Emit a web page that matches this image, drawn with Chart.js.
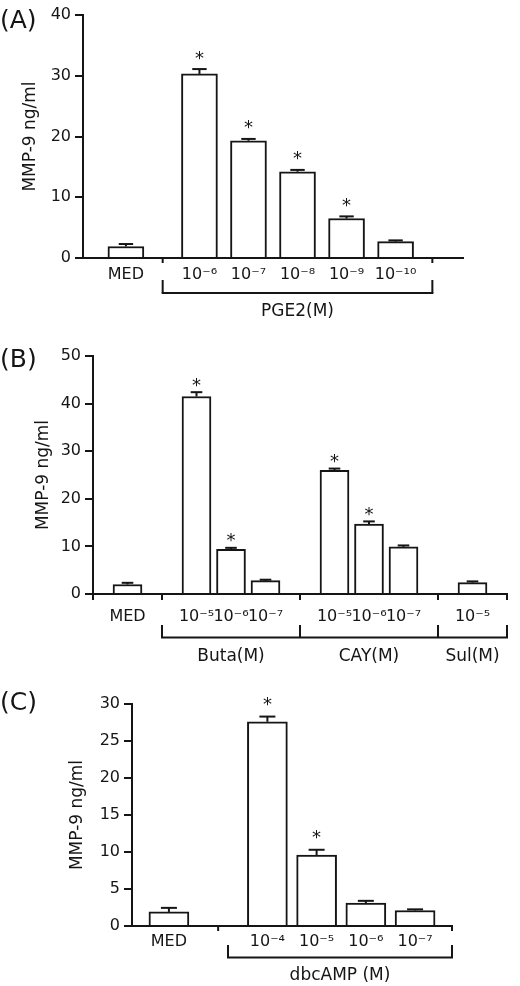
<!DOCTYPE html>
<html>
<head>
<meta charset="utf-8">
<script src="https://cdn.jsdelivr.net/npm/chart.js@4/dist/chart.umd.min.js"></script>
<style>
  html, body { margin: 0; padding: 0; background: #fff; }
  body { width: 520px; height: 986px; position: relative; overflow: hidden; }
  canvas { position: absolute; left: 0; }
</style>
</head>
<body>
<canvas id="chartA" width="520" height="330" style="top:0px"></canvas>
<canvas id="chartB" width="520" height="350" style="top:320px"></canvas>
<canvas id="chartC" width="520" height="326" style="top:660px"></canvas>
<script>
const FONT = "'DejaVu Sans', Verdana, sans-serif";
const INK = "#151515";
const yTitle = "MMP-9 ng/ml";

// (A) PGE2
const labelsA = ["MED", "10⁻⁶", "10⁻⁷", "10⁻⁸", "10⁻⁹", "10⁻¹⁰"];
const valuesA = [1.9, 30.3, 19.3, 14.2, 6.5, 2.7];
const errorsA = [0.4, 0.8, 0.3, 0.3, 0.35, 0.2];
const starsA = [false, true, true, true, true, false];
const groupsA = ["PGE2(M)"];
const ticksA = [0, 10, 20, 30, 40];

// (B) Buta / CAY / Sul
const labelsB = ["MED", "10⁻⁵", "10⁻⁶", "10⁻⁷", "10⁻⁵", "10⁻⁶", "10⁻⁷", "10⁻⁵"];
const valuesB = [2.0, 41.5, 9.4, 2.8, 26.0, 14.7, 9.9, 2.4];
const errorsB = [0.35, 0.9, 0.3, 0.2, 0.35, 0.55, 0.3, 0.25];
const starsB = [false, true, true, false, true, true, false, false];
const groupsB = ["Buta(M)", "CAY(M)", "Sul(M)"];
const ticksB = [0, 10, 20, 30, 40, 50];

// (C) dbcAMP
const labelsC = ["MED", "10⁻⁴", "10⁻⁵", "10⁻⁶", "10⁻⁷"];
const valuesC = [1.9, 27.6, 9.6, 3.1, 2.1];
const errorsC = [0.55, 0.7, 0.7, 0.3, 0.15];
const starsC = [false, true, true, false, false];
const groupsC = ["dbcAMP (M)"];
const ticksC = [0, 5, 10, 15, 20, 25, 30];

// put the bars on a finer category grid so the gaps look like the figure
function spread(slots, total, list, fill) {
  const out = new Array(total).fill(fill);
  slots.forEach((s, i) => { out[s] = list[i]; });
  return out;
}

function line(ctx, x1, y1, x2, y2) {
  ctx.beginPath();
  ctx.moveTo(x1, y1);
  ctx.lineTo(x2, y2);
  ctx.stroke();
}

function decor(p) {
  return {
    id: "decor",
    afterDatasetsDraw(chart) {
      const ctx = chart.ctx, y = chart.scales.y;
      const meta = chart.getDatasetMeta(0);
      ctx.save();
      ctx.strokeStyle = INK;
      ctx.fillStyle = INK;
      ctx.lineWidth = 2;
      ctx.font = "18px " + FONT;
      ctx.textAlign = "center";
      p.slots.forEach((s, i) => {
        const bar = meta.data[s];
        const top = y.getPixelForValue(p.values[i] + p.errors[i]);
        const cap = bar.width * 0.2;
        line(ctx, bar.x, bar.y, bar.x, top);
        line(ctx, bar.x - cap, top, bar.x + cap, top);
        if (p.stars[i]) {
          const m = ctx.measureText("*");
          const c = top - p.starGap;
          ctx.fillText("*", bar.x, c - (m.actualBoundingBoxDescent - m.actualBoundingBoxAscent) / 2);
        }
      });
      ctx.restore();
    },
    afterDraw(chart) {
      const ctx = chart.ctx, x = chart.scales.x;
      const base = chart.chartArea.bottom;
      ctx.save();
      ctx.strokeStyle = INK;
      ctx.fillStyle = INK;
      ctx.lineWidth = 2;
      p.axisTicks.forEach(t => {
        const px = x.getPixelForValue(t);
        line(ctx, px, base, px, base + p.tickLen);
      });
      const e = p.edges;
      e.forEach(t => {
        const px = x.getPixelForValue(t);
        line(ctx, px, base + p.bracketTop, px, base + p.bracketLine);
      });
      line(ctx, x.getPixelForValue(e[0]) - 1, base + p.bracketLine,
           x.getPixelForValue(e[e.length - 1]) + 1, base + p.bracketLine);
      ctx.font = "17px " + FONT;
      ctx.textAlign = "center";
      ctx.textBaseline = "middle";
      p.groups.forEach((g, i) => {
        ctx.fillText(g, x.getPixelForValue((e[i] + e[i + 1]) / 2), base + p.labelOff);
      });
      ctx.font = "25px " + FONT;
      ctx.textAlign = "left";
      ctx.fillText(p.letter, 0, p.letterY);
      ctx.restore();
    }
  };
}

function makePanel(id, p) {
  const ticks = p.yTicks;
  new Chart(document.getElementById(id), {
    type: "bar",
    data: {
      labels: spread(p.slots, p.total, p.labels, ""),
      datasets: [{
        data: spread(p.slots, p.total, p.values, null),
        backgroundColor: "#ffffff",
        borderColor: INK,
        borderWidth: 2,
        barThickness: p.barWidth
      }]
    },
    options: {
      responsive: false,
      animation: false,
      events: [],
      layout: { padding: { left: 0, top: p.top, right: p.right, bottom: 0 } },
      plugins: { legend: { display: false }, tooltip: { enabled: false } },
      scales: {
        x: {
          offset: p.offset,
          grid: { display: false, drawTicks: false },
          border: { color: INK, width: 2 },
          ticks: {
            color: INK, font: { family: FONT, size: 16 },
            padding: p.labelPad, autoSkip: false, maxRotation: 0
          },
          afterFit: s => { s.height = p.xHeight; }
        },
        y: {
          min: ticks[0],
          max: ticks[ticks.length - 1],
          ticks: { stepSize: ticks[1] - ticks[0], color: INK, font: { family: FONT, size: 16 }, padding: 4 },
          grid: { drawOnChartArea: false, color: INK, lineWidth: 2, tickLength: 8 },
          border: { color: INK, width: 2 },
          title: {
            display: true, text: yTitle, color: INK,
            font: { family: FONT, size: 17 },
            padding: { top: p.titlePad, bottom: 0 }
          },
          afterFit: s => { s.width = p.left; }
        }
      }
    },
    plugins: [decor(p)]
  });
}

makePanel("chartA", {
  labels: labelsA, values: valuesA, errors: errorsA, stars: starsA, groups: groupsA, yTicks: ticksA,
  total: 31, slots: [3, 9, 13, 17, 21, 25], offset: true, barWidth: 36,
  left: 83, top: 15, right: 57, xHeight: 72, labelPad: 7, titlePad: 20,
  axisTicks: [6, 28], edges: [6, 28], tickLen: 5, bracketTop: 22, bracketLine: 35, labelOff: 54,
  starGap: 14, letter: "(A)", letterY: 21
});

makePanel("chartB", {
  labels: labelsB, values: valuesB, errors: errorsB, stars: starsB, groups: groupsB, yTicks: ticksB,
  total: 13, slots: [1, 3, 4, 5, 7, 8, 9, 11], offset: false, barWidth: 29,
  left: 93, top: 36, right: 7, xHeight: 76, labelPad: 13, titlePad: 33,
  axisTicks: [0, 2, 6, 10, 12], edges: [2, 6, 10, 12], tickLen: 6, bracketTop: 31, bracketLine: 43.5, labelOff: 63,
  starGap: 10, letter: "(B)", letterY: 40
});

makePanel("chartC", {
  labels: labelsC, values: valuesC, errors: errorsC, stars: starsC, groups: groupsC, yTicks: ticksC,
  total: 13, slots: [1, 5, 7, 9, 11], offset: true, barWidth: 40,
  left: 132, top: 44, right: 68, xHeight: 60, labelPad: 6, titlePad: 67,
  axisTicks: [3, 12.5], edges: [3.4, 12.5], tickLen: 5, bracketTop: 19, bracketLine: 31.5, labelOff: 50,
  starGap: 15, letter: "(C)", letterY: 43
});
</script>
</body>
</html>
